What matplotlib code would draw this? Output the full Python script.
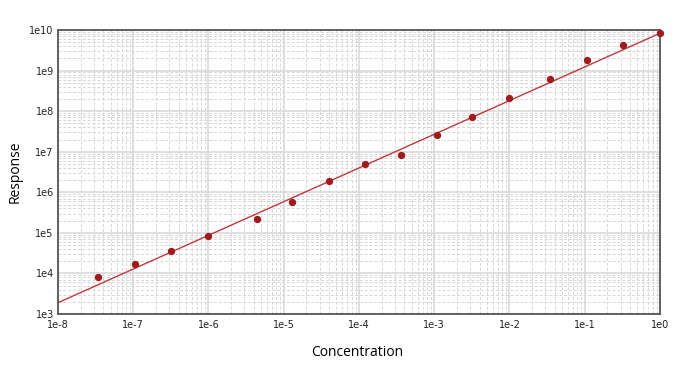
import numpy as np
import matplotlib
matplotlib.use("Agg")
import matplotlib.pyplot as plt
from matplotlib.ticker import LogLocator, FixedLocator, NullFormatter

conc = [3.4e-8, 1.05e-7, 3.2e-7, 1.0e-6, 4.4e-6, 1.3e-5, 4.0e-5, 1.2e-4,
        3.6e-4, 1.1e-3, 3.2e-3, 1.0e-2, 3.5e-2, 1.07e-1, 3.2e-1, 1.0]
resp = [8.1e3, 1.7e4, 3.5e4, 8.3e4, 2.2e5, 5.7e5, 1.9e6, 4.9e6,
        8.3e6, 2.6e7, 7.1e7, 2.1e8, 6.1e8, 1.8e9, 4.3e9, 8.3e9]
fit_slope = 0.83          # log10 response per decade
fit_intercept = 9.92      # log10 response at concentration 1
x_ticks = [1e-8, 1e-7, 1e-6, 1e-5, 1e-4, 1e-3, 1e-2, 1e-1, 1e0]
x_labels = ["1e-8", "1e-7", "1e-6", "1e-5", "1e-4", "1e-3", "1e-2", "1e-1", "1e0"]
y_ticks = [1e3, 1e4, 1e5, 1e6, 1e7, 1e8, 1e9, 1e10]
y_labels = ["1e3", "1e4", "1e5", "1e6", "1e7", "1e8", "1e9", "1e10"]

fig = plt.figure(figsize=(6.79, 3.73), dpi=100)
ax = fig.add_axes([0.0854, 0.158, 0.972 - 0.0854, 0.9196 - 0.158])
ax.set_xscale("log")
ax.set_yscale("log")
ax.set_xlim(1e-8, 1e0)
ax.set_ylim(1e3, 1e10)

ax.xaxis.set_major_locator(FixedLocator(x_ticks))
ax.yaxis.set_major_locator(FixedLocator(y_ticks))
ax.set_xticklabels(x_labels)
ax.set_yticklabels(y_labels)
ax.xaxis.set_minor_locator(LogLocator(base=10, subs=np.arange(2, 10), numticks=100))
ax.yaxis.set_minor_locator(LogLocator(base=10, subs=np.arange(2, 10), numticks=100))
ax.xaxis.set_minor_formatter(NullFormatter())
ax.yaxis.set_minor_formatter(NullFormatter())

ax.grid(which="major", color="#d9d9d9", linewidth=1.2, linestyle="-")
ax.grid(which="minor", color="#d6d6d6", linewidth=0.7, linestyle=(0, (3, 2)))
ax.set_axisbelow(True)

ax.tick_params(which="both", length=0, labelsize=7, colors="#222222")
ax.tick_params(axis="x", pad=4)
ax.tick_params(axis="y", pad=3)

for s in ax.spines.values():
    s.set_color("#555555")
    s.set_linewidth(1.3)

xf = np.array([1e-8, 1e0])
yf = 10 ** (fit_intercept + fit_slope * np.log10(xf))
ax.plot(xf, yf, color="#c0393b", linewidth=1.0, zorder=3, clip_on=False)
ax.scatter(conc, resp, s=28, color="#a01b1f", zorder=4, clip_on=False, linewidths=0)

ax.set_xlabel("Concentration", fontsize=10, family=["Open Sans", "DejaVu Sans"])
ax.set_ylabel("Response", fontsize=10, family=["Open Sans", "DejaVu Sans"])
ax.xaxis.set_label_coords(0.497, -0.134)
ax.yaxis.set_label_coords(-0.071, 0.5)
ax.xaxis.label.set_va("center")
ax.yaxis.label.set_va("center")

fig.savefig("out.png", dpi=100, facecolor="white")
